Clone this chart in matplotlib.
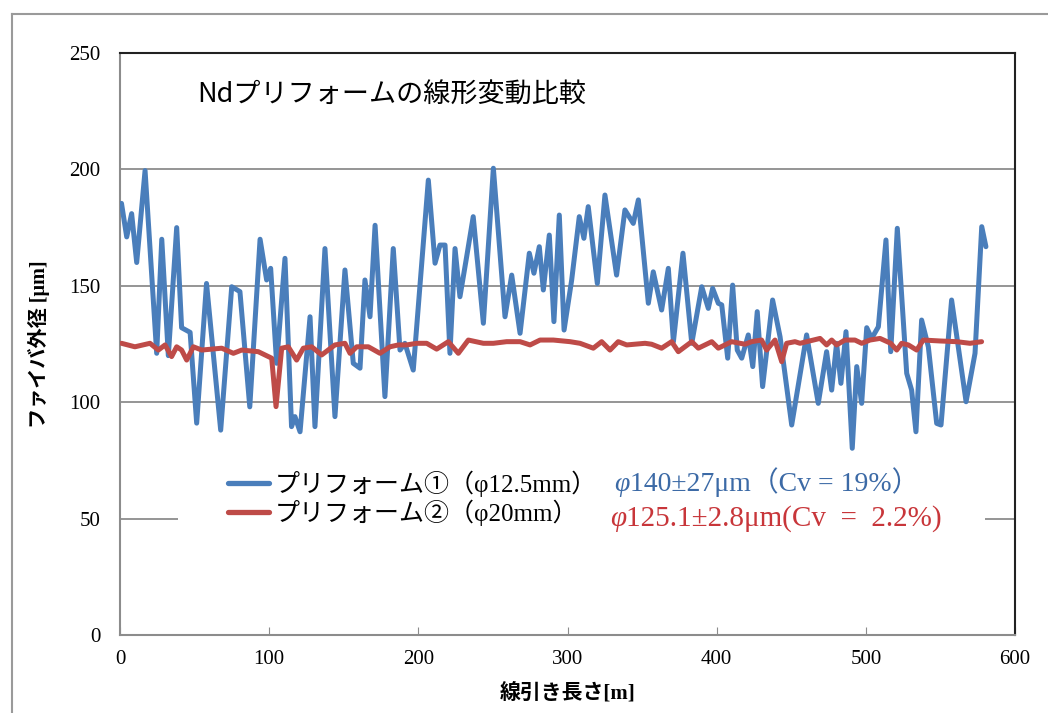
import matplotlib
matplotlib.use("Agg")
import matplotlib.pyplot as plt
from matplotlib.lines import Line2D
from matplotlib.patches import Rectangle

# ---- data ----
blue_x = [1, 4.5, 7.8, 11.2, 16.8, 24.6, 28, 32.4, 38, 41.3,
          47, 51.4, 58, 67.5, 74.9, 80.4, 87, 93.9, 98.3, 101,
          105, 110.6, 115, 117.3, 120.7, 127.4, 130.7, 137.4, 144.1, 150.8,
          156.4, 160.9, 164.2, 167.6, 171, 177.6, 183.2, 187.7, 191, 196.6,
          206.7, 211.2, 214.5, 217.9, 221.2, 224.6, 227.9, 232.4, 236.8, 243.6,
          250.3, 258.1, 262.6, 268.2, 274.4, 277.5, 281.1, 283.8, 287.8, 290.9,
          294.5, 297.7, 302.8, 307.9, 311, 313.9, 320, 325.1, 332.9, 338.5,
          344.1, 347.5, 354.2, 357.5, 363.1, 367.6, 371, 377.4, 383.3, 390,
          394.4, 397.3, 401.1, 403.4, 407.4, 410.7, 413.8, 416.8, 421.2, 424.2,
          427.2, 430.8, 437.5, 442.5, 450.3, 460.3, 468.1, 473.7, 477.1, 480.4,
          483.3, 486.7, 490.9, 493.9, 497.2, 500.6, 503.9, 508.4, 513.5, 516.7,
          521.1, 527.4, 530.7, 533.6, 537.4, 541.9, 547.5, 550.4, 557.5, 567.2,
          573.2, 577.7, 580.5]
blue_y = [185.4, 171, 181, 160, 199.5, 121, 170, 120, 175, 132,
          130, 91, 151, 88, 149.6, 147.5, 98, 170, 152.5, 157.5,
          116.7, 161.8, 89.5, 93.8, 87.3, 136.7, 89.5, 166, 93.8, 156.8,
          116.7, 114.6, 152.5, 136.7, 176, 102.4, 166, 122.4, 125.3, 113.8,
          195.4, 159.7, 167.5, 167.5, 121, 166, 145.3, 162.5, 179.7, 133.9,
          200.5, 136.7, 154.6, 129.6, 164, 155.4, 166.8, 148.2, 171.8, 134.6,
          180.4, 131, 152.5, 179.7, 170.4, 184, 151, 189, 154.6, 182.6,
          176.8, 186.9, 142.5, 156, 139.6, 157.5, 126, 164, 125.3, 149.6,
          140.3, 148.9, 142.5, 141.8, 118.9, 150.3, 122.4, 118.9, 128.9, 115.3,
          138.9, 106.7, 143.9, 128.1, 90.2, 128.9, 99.5, 121.7, 105.2, 125.3,
          108.1, 130.3, 80.2, 115.3, 99.5, 132, 127.4, 132.4, 169.7, 121.7,
          174.7, 112.4, 105.2, 87.3, 135.3, 123.8, 90.9, 90.2, 143.9, 100.2,
          121, 175.4, 166.8]

red_x = [1, 10, 20.1, 25.7, 30.2, 34.6, 38, 41.3, 44.7, 49.2,
         54.8, 68.2, 76, 81.6, 92.7, 97.2, 101.7, 104.6, 108.4, 112.8,
         118.4, 122.9, 128.5, 135.2, 144.1, 150.8, 154.2, 158.7, 166.5, 174.3,
         181, 186.6, 192.2, 198.9, 205.6, 212.3, 220.1, 226.8, 233.5, 243.6,
         250.3, 259.2, 268.2, 274.9, 281.6, 290.5, 301.7, 308.4, 317.3, 322.9,
         328.5, 334, 339.7, 352, 356.4, 363.1, 369.8, 374.3, 383.3, 387.7,
         396.7, 401.1, 410, 419, 423.4, 430.1, 433.5, 439.1, 443.6, 446.9,
         452.5, 455.9, 469.3, 473.7, 477.1, 480.4, 486, 492.7, 497.2, 502.8,
         509.5, 516.7, 520.7, 524, 528.5, 534.1, 538.5, 549.7, 560.9, 569.8, 577.6]
red_y = [125.3, 123.8, 125.3, 122.4, 124.6, 119.6, 123.8, 122.4, 118.1, 123.8,
         122.4, 123.2, 121, 122.4, 121.7, 120.3, 118.9, 98.1, 123.2, 123.8,
         118.1, 123.2, 123.8, 120.3, 124.6, 125.3, 121, 123.8, 123.8, 121,
         123.8, 124.6, 124.6, 125.3, 125.3, 122.8, 126, 121, 126.7, 125.3,
         125.3, 126, 126, 124.6, 126.7, 126.7, 126, 125.3, 123.2, 126,
         122.4, 126, 124.6, 125.3, 124.9, 123.2, 126, 121.7, 126, 123.2,
         126, 123.2, 126, 124.9, 126, 126.7, 122.4, 126.7, 117.4, 125.3,
         126, 125.3, 127.4, 124.6, 126.7, 124.6, 126.7, 126.7, 125.3, 126.7,
         127.4, 125.3, 122.4, 125.3, 124.6, 122.4, 126.7, 126.3, 126, 125.3, 126]

series_labels = ["プリフォーム①（φ12.5mm）", "プリフォーム②（φ20mm）"]
stats_phi = "φ"
stats_rest = ["140±27μm（Cv = 19%）", "125.1±2.8μm(Cv  =  2.2%)"]
title_text = "Ndプリフォームの線形変動比較"
x_label = "線引き長さ[m]"
y_label = "ファイバ外径 [μm]"
x_ticks = [0, 100, 200, 300, 400, 500, 600]
y_ticks = [0, 50, 100, 150, 200, 250]

BLUE = "#4A7EBB"
RED = "#BE4B48"
BLUE_TXT = "#3C6AA6"
RED_TXT = "#C8363A"

MIX = ["Liberation Serif", "Noto Sans CJK JP"]
JP = ["Noto Sans CJK JP", "DejaVu Sans"]

W, H = 1048, 713
fig = plt.figure(figsize=(W / 100, H / 100), dpi=100)
ax = fig.add_axes([120 / W, 1 - 635 / H, 895 / W, 582 / H])


def ax_xy(px, py):
    """pixel position in the reference layout -> axes fraction"""
    return (px - 120) / 895, (635 - py) / 582


# outer chart-area border
fig.add_artist(Line2D([12 / W, 1.0], [1 - 14 / H, 1 - 14 / H],
                      transform=fig.transFigure, color="#9a9a9a", lw=1.5))
fig.add_artist(Line2D([12 / W, 12 / W], [0, 1 - 14 / H],
                      transform=fig.transFigure, color="#9a9a9a", lw=1.5))

ax.plot(blue_x, blue_y, color=BLUE, lw=3.6, solid_joinstyle="round",
        solid_capstyle="round", label=series_labels[0], zorder=3)
ax.plot(red_x, red_y, color=RED, lw=3.6, solid_joinstyle="round",
        solid_capstyle="round", label=series_labels[1], zorder=4)

ax.set_xlim(0, 600)
ax.set_ylim(0, 250)
ax.set_xticks(x_ticks)
ax.set_yticks(y_ticks)
ax.yaxis.grid(True, color="#8c8c8c", lw=1.3, zorder=0)
ax.set_axisbelow(True)

for lab in ax.get_xticklabels() + ax.get_yticklabels():
    lab.set_family(MIX)
    lab.set_fontsize(15)
ax.tick_params(axis="x", direction="in", length=6, color="#8c8c8c", pad=11)
ax.tick_params(axis="y", length=0, pad=14)

ax.spines["left"].set_color("#8c8c8c")
ax.spines["bottom"].set_color("#8c8c8c")
ax.spines["top"].set_color("#222222")
ax.spines["right"].set_color("#222222")
for s in ax.spines.values():
    s.set_linewidth(1.5)

ax.set_xlabel(x_label, family=MIX, fontsize=15, fontweight="bold", labelpad=10)
ax.set_ylabel(y_label, family=MIX, fontsize=14.5, fontweight="bold", labelpad=14)

tx, ty = ax_xy(197, 95)
ax.text(tx, ty, title_text, transform=ax.transAxes, family=JP,
        fontsize=19.5, va="center", ha="left")

# white box behind legend and statistics (covers the 50 gridline)
bx0, by0 = ax_xy(178, 532)
bx1, by1 = ax_xy(985, 466)
ax.add_patch(Rectangle((bx0, by0), bx1 - bx0, by1 - by0, transform=ax.transAxes,
                       facecolor="white", edgecolor="none", zorder=2))

lx, ly = ax_xy(228, 498)
leg = ax.legend(loc="center left", bbox_to_anchor=(lx, ly),
                prop={"family": MIX, "size": 18}, frameon=False,
                handlelength=1.65, handletextpad=0.2, labelspacing=0.1,
                borderpad=0, borderaxespad=0)
leg.set_zorder(5)
for ln in leg.get_lines():
    ln.set_linewidth(3.8)

# statistics text: italic phi followed by upright rest, on a common baseline
for (px, py), rest, col, fs in [((630, 491), stats_rest[0], BLUE_TXT, 20),
                                ((626, 526), stats_rest[1], RED_TXT, 21)]:
    sx, sy = ax_xy(px, py)
    ax.text(sx, sy, stats_phi, transform=ax.transAxes, family="Liberation Serif",
            fontstyle="italic", fontsize=fs, color=col, va="baseline", ha="right",
            zorder=6)
    ax.text(sx, sy, rest, transform=ax.transAxes, family=MIX,
            fontsize=fs, color=col, va="baseline", ha="left", zorder=6)

fig.savefig("out.png", dpi=100)
